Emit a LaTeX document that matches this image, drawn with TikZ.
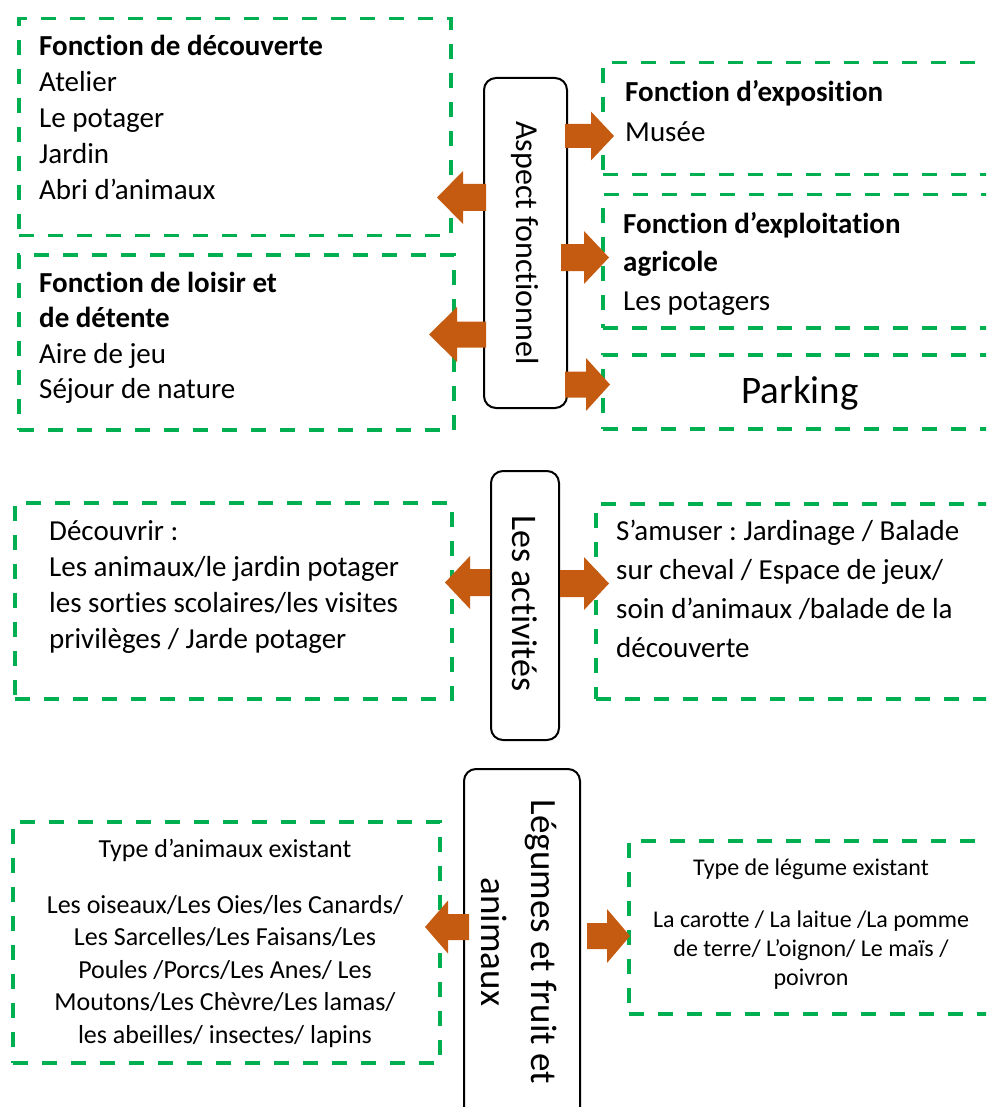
\documentclass[tikz,border=0pt]{standalone}
\usepackage{fontspec}
\setmainfont{Carlito}[Ligatures=NoCommon]
\frenchspacing
\usetikzlibrary{calc}
\definecolor{dgreen}{HTML}{00B050}
\definecolor{aorange}{HTML}{C55A11}
\newcommand\setfs[2]{\fontsize{#1}{#2}\selectfont}
\tikzset{
  dbox/.style={draw=dgreen, line width=3.5pt, dash pattern=on 15pt off 14pt,
               inner sep=0pt, anchor=north west},
  cbox/.style={draw=black, line width=2pt, rounded corners=12pt, fill=white,
               inner sep=0pt, anchor=north west},
  txt/.style={inner sep=0pt, align=left, anchor=base west},
  ctxt/.style={inner sep=0pt, align=center, anchor=base},
  afill/.style={fill=aorange},
}
% #1 node anchor, #2 x offset, #3 centre y, #4 direction, #5 shaft length,
% #6 head length, #7 shaft half width, #8 head half width
\newcommand\blockarrow[8]{%
  \fill[afill] (#1 |- 0,#3) ++(#2,-#7) -- ++(#4*#5,0) -- ++(0,#7-#8)
    -- ++(#4*#6,#8) -- ++(-#4*#6,#8) -- ++(0,#7-#8) -- ++(-#4*#5,0) -- cycle;}
\begin{document}
\begin{tikzpicture}[x=1pt,y=-1pt]
\clip (0,0) rectangle (986,1107);

% ---------- dashed boxes ----------
\node[dbox, minimum width=432, minimum height=217] (b1) at (17,17) {};
\node[dbox, minimum width=435, minimum height=175] (b2) at (17,253) {};
\node[dbox, minimum width=420, minimum height=112] (b3) at (601,61) {};
\node[dbox, minimum width=420, minimum height=133] (b4) at (601,193) {};
\node[dbox, minimum width=420, minimum height=74]  (b5) at (601,353) {};
\node[dbox, minimum width=437, minimum height=196] (b6) at (13,501) {};
\node[dbox, minimum width=420, minimum height=195] (b7) at (594,502) {};
\node[dbox, minimum width=427, minimum height=241] (b8) at (11,820) {};
\node[dbox, minimum width=420, minimum height=173] (b9) at (627,839) {};

% ---------- central boxes ----------
\node[cbox, minimum width=83, minimum height=330]  (c1) at (483,77) {};
\node[cbox, minimum width=68, minimum height=269]  (c2) at (490,470) {};
\node[cbox, minimum width=116, minimum height=380] (c3) at (463,768) {};

\node[rotate=-90, inner sep=0pt, font=\setfs{32}{38}] (l1) at (c1.center) {Aspect fonctionnel};
\node[rotate=-90, inner sep=0pt, font=\setfs{36}{43}] (l2) at ([yshift=2pt]c2.center) {Les activités};
\node[rotate=-90, inner sep=0pt, align=center, font=\setfs{37}{50}] (l3) at (519,942) {Légumes et fruit et\\animaux};

% ---------- texts (anchored at the baseline of their last line) ----------
\node[txt, font=\setfs{29}{36.2}] (t1) at (39,200)
  {\textbf{Fonction de découverte}\\Atelier\\Le potager\\Jardin\\Abri d’animaux};
\node[txt, font=\setfs{29}{35.5}] (t2) at (39,398.5)
  {\textbf{Fonction de loisir et}\\\textbf{de détente}\\Aire de jeu\\Séjour de nature};
\node[txt, font=\setfs{29}{40}] (t3) at (625,142)
  {\textbf{Fonction d’exposition}\\Musée};
\node[txt, font=\setfs{29}{38.5}] (t4) at (623,310)
  {\textbf{Fonction d’exploitation}\\\textbf{agricole}\\Les potagers};
\node[ctxt, font=\setfs{39}{47}] (t5) at (800,403) {Parking};

\node[txt, font=\setfs{29}{36}] (t6) at (49,648)
  {Découvrir :\\Les animaux/le jardin potager\\les sorties scolaires/les visites\\privilèges / Jarde potager};
\node[txt, font=\setfs{29}{39}] (t7) at (616,657)
  {S’amuser : Jardinage / Balade\\sur cheval / Espace de jeux/\\soin d’animaux /balade de la\\découverte};

\node[ctxt, font=\setfs{26}{32}] (t8) at (225,857) {Type d’animaux existant};
\node[ctxt, font=\setfs{26}{32.5}] (t9) at (225,1043)
  {Les oiseaux/Les Oies/les Canards/\\Les Sarcelles/Les Faisans/Les\\Poules /Porcs/Les Anes/ Les\\Moutons/Les Chèvre/Les lamas/\\les abeilles/ insectes/ lapins};

\node[ctxt, font=\setfs{24}{29}] (t10) at (811,875) {Type de légume existant};
\node[ctxt, font=\setfs{24}{29}] (t11) at (811,985)
  {La carotte / La laitue /La pomme\\de terre/ L’oignon/ Le maïs /\\poivron};

% ---------- block arrows ----------
\blockarrow{c1.east}{-3}{136}{1}{26}{23}{12}{24.5}
\blockarrow{c1.west}{3}{197.5}{-1}{23}{26}{13.5}{26.5}
\blockarrow{c1.east}{-7}{257.5}{1}{23}{25}{13.5}{26.5}
\blockarrow{c1.west}{3}{334.5}{-1}{29}{28}{13}{27.5}
\blockarrow{c1.east}{-3}{384.5}{1}{21}{24}{13}{26.5}

\blockarrow{c2.west}{0}{582.5}{-1}{20}{25}{13.5}{26.5}
\blockarrow{c2.east}{0}{583.5}{1}{24}{25}{13.5}{26.5}

\blockarrow{c3.west}{6}{927}{-1}{21}{23}{13}{26.5}
\blockarrow{c3.east}{6}{936}{1}{20}{23}{13}{27}
\end{tikzpicture}
\end{document}
